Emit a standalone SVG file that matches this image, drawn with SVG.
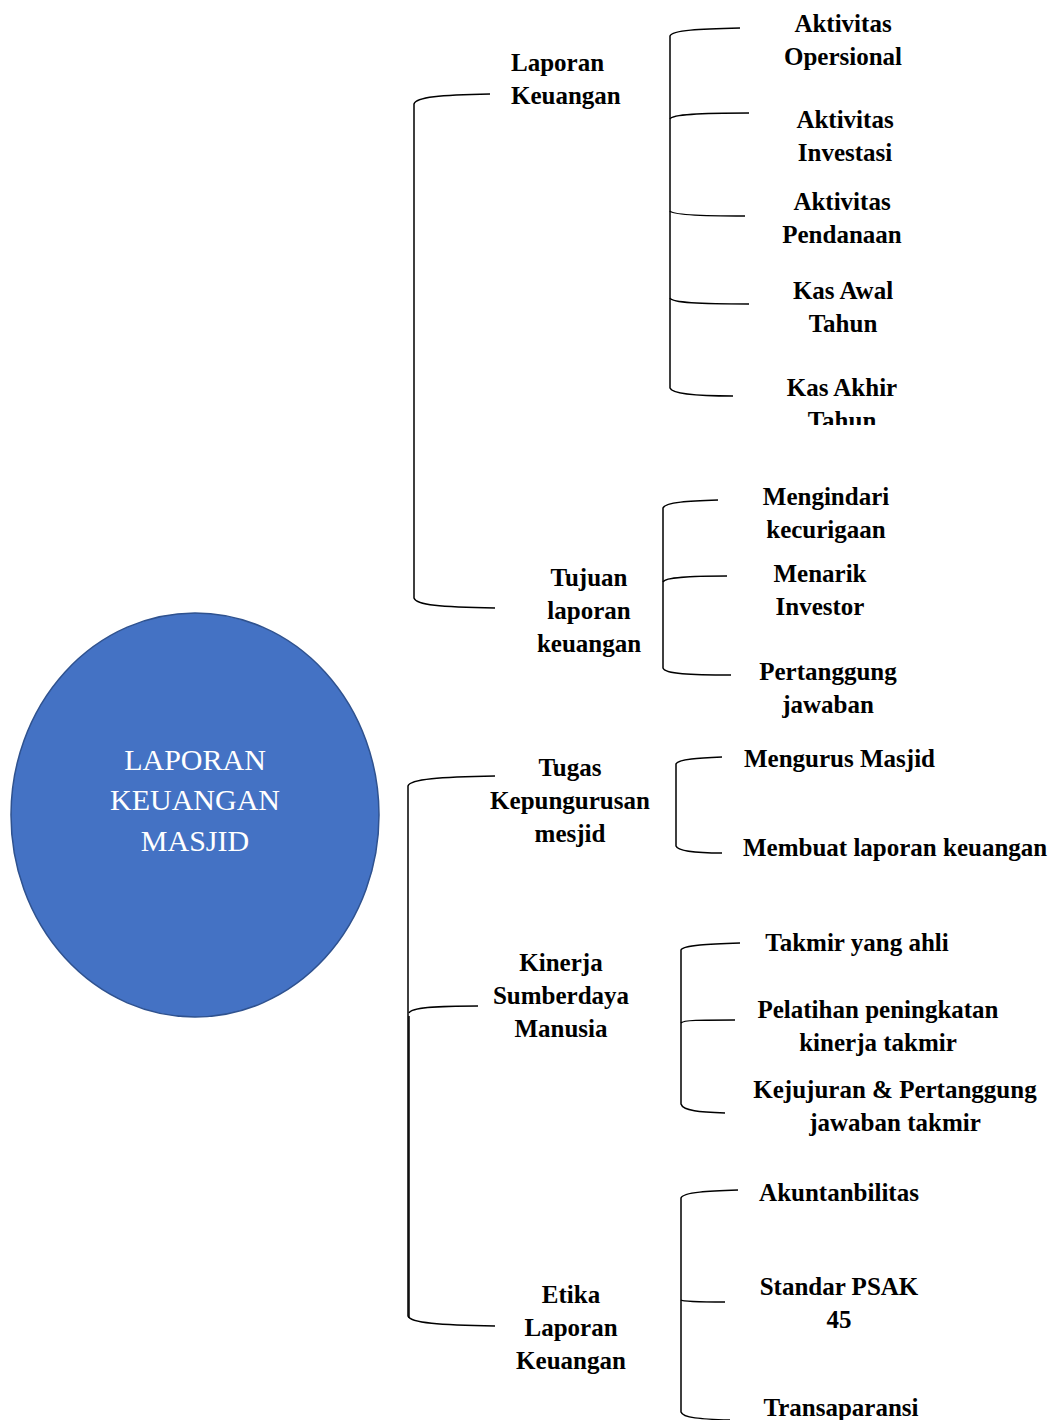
<svg xmlns="http://www.w3.org/2000/svg" width="1050" height="1420" viewBox="0 0 1050 1420">
<style>
.t{font-family:"Liberation Serif","Times New Roman",serif;font-weight:bold;font-size:25px;fill:#000}
.c{text-anchor:middle}
.l{fill:none;stroke:#000;stroke-width:1.5}
.root{font-family:"Liberation Serif","Times New Roman",serif;font-size:30px;fill:#fff;text-anchor:middle}
</style>
<defs><clipPath id="clipK"><rect x="700" y="360" width="300" height="65"/></clipPath></defs>
<rect width="1050" height="1420" fill="#fff"/>
<g id="connectors">
<path class="l" d="M490 94 C440 95 416 97 414 104 L414 598 C416 605 440 607 495 608"/>
<path class="l" d="M495 776 C440 777 410 779 408 786 L408 1316 C410 1323 440 1325 495 1326"/>
<path class="l" d="M409 1013 C411 1007 440 1006 478 1006"/>
<path class="l" d="M409 1016 L409 1318"/>
<path class="l" d="M740 28 C700 29 672 30 670 36 L670 388 C672 394 700 396 733 396"/>
<path class="l" d="M670 119 C672 114 700 113 749 113"/>
<path class="l" d="M670 211 C672 215 700 216 745 216"/>
<path class="l" d="M670 298 C672 303 700 304 749 304"/>
<path class="l" d="M718 500 C690 501 665 502 663 508 L663 668 C665 674 690 675 731 675"/>
<path class="l" d="M663 582 C665 577 690 576 727 576"/>
<path class="l" d="M722 757 C700 758 678 759 676 764 L676 846 C678 852 700 853 722 853"/>
<path class="l" d="M740 943 C710 944 683 945 681 950 L681 1104 C683 1111 700 1112 725 1113"/>
<path class="l" d="M681 1023 C683 1020 700 1020 735 1020"/>
<path class="l" d="M738 1190 C710 1191 683 1192 681 1198 L681 1412 C683 1418 700 1419 730 1420"/>
<path class="l" d="M681 1300 C683 1302 700 1302 725 1302"/>
</g>
<g id="root">
<ellipse cx="195" cy="815" rx="184" ry="202" fill="#4472C4" stroke="#2F528F" stroke-width="1.5"/>
<text class="root" x="195" y="770">LAPORAN</text>
<text class="root" x="195" y="810">KEUANGAN</text>
<text class="root" x="195" y="851">MASJID</text>
</g>
<g id="n-laporan-keuangan"><text class="t" x="511" y="71">Laporan</text><text class="t" x="511" y="104">Keuangan</text></g>
<g id="n-ak-opersional"><text class="t c" x="843" y="32">Aktivitas</text><text class="t c" x="843" y="65">Opersional</text></g>
<g id="n-ak-investasi"><text class="t c" x="845" y="128">Aktivitas</text><text class="t c" x="845" y="161">Investasi</text></g>
<g id="n-ak-pendanaan"><text class="t c" x="842" y="210">Aktivitas</text><text class="t c" x="842" y="243">Pendanaan</text></g>
<g id="n-kas-awal"><text class="t c" x="843" y="299">Kas Awal</text><text class="t c" x="843" y="332">Tahun</text></g>
<g id="n-kas-akhir"><text class="t c" x="842" y="396">Kas Akhir</text><text class="t c" x="842" y="429" clip-path="url(#clipK)">Tahun</text></g>
<g id="n-tujuan"><text class="t c" x="589" y="586">Tujuan</text><text class="t c" x="589" y="619">laporan</text><text class="t c" x="589" y="652">keuangan</text></g>
<g id="n-mengindari"><text class="t c" x="826" y="505">Mengindari</text><text class="t c" x="826" y="538">kecurigaan</text></g>
<g id="n-menarik"><text class="t c" x="820" y="582">Menarik</text><text class="t c" x="820" y="615">Investor</text></g>
<g id="n-pertanggung"><text class="t c" x="828" y="680">Pertanggung</text><text class="t c" x="828" y="713">jawaban</text></g>
<g id="n-tugas"><text class="t c" x="570" y="776">Tugas</text><text class="t c" x="570" y="809">Kepungurusan</text><text class="t c" x="570" y="842">mesjid</text></g>
<g id="n-mengurus"><text class="t" x="744" y="767">Mengurus Masjid</text></g>
<g id="n-membuat"><text class="t" x="743" y="856">Membuat laporan keuangan</text></g>
<g id="n-kinerja"><text class="t c" x="561" y="971">Kinerja</text><text class="t c" x="561" y="1004">Sumberdaya</text><text class="t c" x="561" y="1037">Manusia</text></g>
<g id="n-takmir"><text class="t c" x="857" y="951">Takmir yang ahli</text></g>
<g id="n-pelatihan"><text class="t c" x="878" y="1018">Pelatihan peningkatan</text><text class="t c" x="878" y="1051">kinerja takmir</text></g>
<g id="n-kejujuran"><text class="t c" x="895" y="1098">Kejujuran &amp; Pertanggung</text><text class="t c" x="895" y="1131">jawaban takmir</text></g>
<g id="n-etika"><text class="t c" x="571" y="1303">Etika</text><text class="t c" x="571" y="1336">Laporan</text><text class="t c" x="571" y="1369">Keuangan</text></g>
<g id="n-akuntanbilitas"><text class="t c" x="839" y="1201">Akuntanbilitas</text></g>
<g id="n-psak"><text class="t c" x="839" y="1295">Standar PSAK</text><text class="t c" x="839" y="1328">45</text></g>
<g id="n-transaparansi"><text class="t c" x="841" y="1416">Transaparansi</text></g>
</svg>
